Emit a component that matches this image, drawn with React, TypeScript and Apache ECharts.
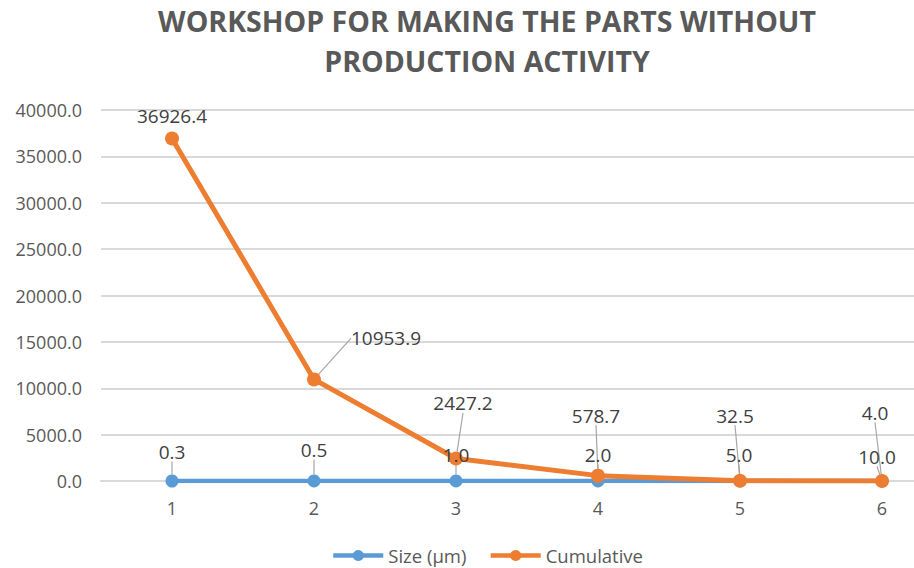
import React, { useEffect, useRef } from "react";
import * as echarts from "echarts";

const titleLines = ["WORKSHOP FOR MAKING THE PARTS WITHOUT", "PRODUCTION ACTIVITY"];
const categories = ["1", "2", "3", "4", "5", "6"];
const sizeName = "Size (µm)";
const cumulativeName = "Cumulative";
const sizeValues = [0.3, 0.5, 1.0, 2.0, 5.0, 10.0];
const cumulativeValues = [36926.4, 10953.9, 2427.2, 578.7, 32.5, 4.0];
const yMin = 0;
const yMax = 40000;
const yInterval = 5000;

// label offsets (layout only, in px relative to the point)
const sizeLabelOffsets = [
  [0, -29], [0, -31], [0, -26], [0, -26], [-1, -26], [-5, -24],
];
const cumLabelOffsets = [
  [0, -23], [72, -41], [7, -55], [-2, -60], [-5, -65], [-7, -68],
];

const FONT = "'Open Sans', 'Noto Sans', sans-serif";
const BLUE = "#5B9BD5";
const ORANGE = "#ED7D31";

export default function App() {
  const ref = useRef<HTMLDivElement>(null);
  useEffect(() => {
    if (!ref.current) return;
    const chart = echarts.init(ref.current, undefined, { renderer: "svg" });
    const mkLayout = (offs: number[][]) => (p: any) => ({
      dx: offs[p.dataIndex][0],
      dy: offs[p.dataIndex][1],
    });
    const labelCommon = {
      show: true,
      position: "inside",
      color: "#404040",
      fontFamily: FONT,
      fontSize: 19,
      formatter: (p: any) => Number(p.value).toFixed(1),
    };
    const lineCommon = {
      show: true,
      lineStyle: { color: "#a6a6a6", width: 1.2 },
    };
    chart.setOption({
      animation: false,
      textStyle: { fontFamily: FONT },
      title: {
        text: titleLines.join("\n"),
        left: "center",
        top: -4,
        textStyle: {
          fontFamily: FONT,
          fontSize: 28.5,
          fontWeight: "bold",
          color: "#595959",
          lineHeight: 40,
        },
      },
      legend: {
        data: [sizeName, cumulativeName],
        left: "center",
        top: 541,
        itemWidth: 50,
        itemHeight: 14,
        itemGap: 22,
        lineStyle: { width: 4.5 },
        textStyle: { fontFamily: FONT, fontSize: 18.5, color: "#595959" },
      },
      grid: { left: 101, right: 21, top: 110, bottom: 87 },
      xAxis: {
        type: "category",
        data: categories,
        boundaryGap: true,
        axisLine: { show: true, lineStyle: { color: "#d9d9d9", width: 2 } },
        axisTick: { show: false },
        axisLabel: { color: "#595959", fontSize: 18, fontFamily: FONT, margin: 18 },
      },
      yAxis: {
        type: "value",
        min: yMin,
        max: yMax,
        interval: yInterval,
        axisLine: { show: false },
        axisTick: { show: false },
        splitLine: { lineStyle: { color: "#d9d9d9", width: 2 } },
        axisLabel: {
          color: "#595959",
          fontSize: 18,
          fontFamily: FONT,
          margin: 19,
          formatter: (v: number) => v.toFixed(1),
        },
      },
      series: [
        {
          name: sizeName,
          type: "line",
          data: sizeValues,
          symbol: "circle",
          symbolSize: 13,
          lineStyle: { color: BLUE, width: 4.5 },
          itemStyle: { color: BLUE },
          label: labelCommon,
          labelLine: lineCommon,
          labelLayout: mkLayout(sizeLabelOffsets),
        },
        {
          name: cumulativeName,
          type: "line",
          data: cumulativeValues.map((v, i) =>
            i === 0 ? { value: v, labelLine: { show: false } } : v
          ),
          symbol: "circle",
          symbolSize: 14,
          lineStyle: { color: ORANGE, width: 5 },
          itemStyle: { color: ORANGE },
          label: labelCommon,
          labelLine: lineCommon,
          labelLayout: mkLayout(cumLabelOffsets),
        },
      ],
    });
    return () => chart.dispose();
  }, []);
  return (
    <div
      style={{
        position: "fixed",
        left: 0,
        top: 0,
        width: 914,
        height: 568,
        overflow: "hidden",
        background: "#ffffff",
      }}
    >
      <div ref={ref} style={{ width: 974, height: 568 }} />
    </div>
  );
}
